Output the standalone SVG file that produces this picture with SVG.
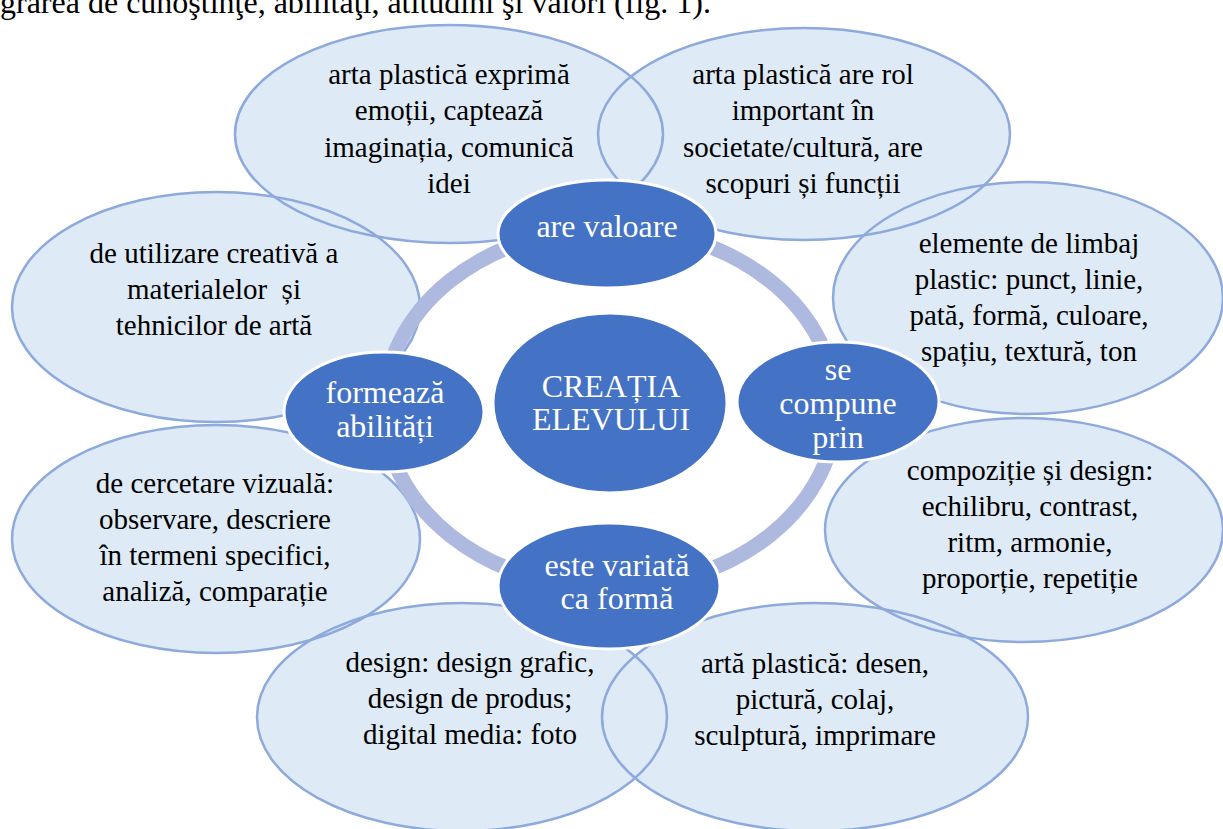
<svg xmlns="http://www.w3.org/2000/svg" xmlns:xlink="http://www.w3.org/1999/xlink" width="1223" height="829" viewBox="0 0 1223 829">
  <style>
    .outer { fill: #DEEAF6; stroke: none; }
    .outline { fill: none; stroke: #8EA9DB; stroke-width: 2.5; }
    .inner { fill: #4472C4; stroke: #FFFFFF; stroke-width: 3; }
    .ring { fill: none; stroke: #ADB9DE; stroke-width: 15; }
    .t { font-size: 29px; fill: #000000; text-anchor: middle; }
    .w { font-size: 32px; fill: #FFFFFF; text-anchor: middle; }
    .head { font-size: 32px; fill: #000000; }
  </style>
  <defs>
    <ellipse id="e1" cx="449" cy="134" rx="214" ry="109"/>
    <ellipse id="e2" cx="804" cy="134" rx="206" ry="106"/>
    <ellipse id="e3" cx="1028" cy="298" rx="195" ry="116"/>
    <ellipse id="e4" cx="1024" cy="530" rx="199" ry="112"/>
    <ellipse id="e5" cx="815" cy="717" rx="213" ry="114"/>
    <ellipse id="e6" cx="462" cy="717" rx="205" ry="114"/>
    <ellipse id="e7" cx="216" cy="539" rx="204" ry="114"/>
    <ellipse id="e8" cx="216" cy="307" rx="204" ry="115"/>
  </defs>
  <rect width="1223" height="829" fill="#FFFFFF"/>

  <g font-family="'Liberation Serif', 'Times New Roman', serif">
  <!-- running paragraph text above the figure -->
  <text class="head" x="0" y="13">grarea de cunoştinţe, abilităţi, atitudini şi valori (fig. 1).</text>

  <!-- outer detail bubbles -->
  <g id="node-expresie">
    <use xlink:href="#e1" class="outer"/>
    <text class="t"><tspan x="449" y="84">arta plastică exprimă</tspan><tspan x="449" y="120">emoții, captează</tspan><tspan x="449" y="157">imaginația, comunică</tspan><tspan x="449" y="193">idei</tspan></text>
  </g>
  <g id="node-rol">
    <use xlink:href="#e2" class="outer"/>
    <text class="t"><tspan x="803" y="84">arta plastică are rol</tspan><tspan x="803" y="120">important în</tspan><tspan x="803" y="157">societate/cultură, are</tspan><tspan x="803" y="193">scopuri și funcții</tspan></text>
  </g>
  <g id="node-limbaj">
    <use xlink:href="#e3" class="outer"/>
    <text class="t"><tspan x="1029" y="253">elemente de limbaj</tspan><tspan x="1029" y="289">plastic: punct, linie,</tspan><tspan x="1029" y="325">pată, formă, culoare,</tspan><tspan x="1029" y="361">spațiu, textură, ton</tspan></text>
  </g>
  <g id="node-compozitie">
    <use xlink:href="#e4" class="outer"/>
    <text class="t"><tspan x="1030" y="480">compoziție și design:</tspan><tspan x="1030" y="516">echilibru, contrast,</tspan><tspan x="1030" y="552">ritm, armonie,</tspan><tspan x="1030" y="588">proporție, repetiție</tspan></text>
  </g>
  <g id="node-arta">
    <use xlink:href="#e5" class="outer"/>
    <text class="t"><tspan x="815" y="673">artă plastică: desen,</tspan><tspan x="815" y="709">pictură, colaj,</tspan><tspan x="815" y="745">sculptură, imprimare</tspan></text>
  </g>
  <g id="node-design">
    <use xlink:href="#e6" class="outer"/>
    <text class="t"><tspan x="470" y="672">design: design grafic,</tspan><tspan x="470" y="708">design de produs;</tspan><tspan x="470" y="744">digital media: foto</tspan></text>
  </g>
  <g id="node-cercetare">
    <use xlink:href="#e7" class="outer"/>
    <text class="t"><tspan x="215" y="493">de cercetare vizuală:</tspan><tspan x="215" y="529">observare, descriere</tspan><tspan x="215" y="565">în termeni specifici,</tspan><tspan x="215" y="601">analiză, comparație</tspan></text>
  </g>
  <g id="node-utilizare">
    <use xlink:href="#e8" class="outer"/>
    <text class="t"><tspan x="214" y="263">de utilizare creativă a</tspan><tspan x="214" y="299">materialelor&#160; și</tspan><tspan x="214" y="335">tehnicilor de artă</tspan></text>
  </g>

  <!-- bubble outlines stay visible where bubbles overlap -->
  <g id="outlines">
    <use xlink:href="#e1" class="outline"/>
    <use xlink:href="#e2" class="outline"/>
    <use xlink:href="#e3" class="outline"/>
    <use xlink:href="#e4" class="outline"/>
    <use xlink:href="#e5" class="outline"/>
    <use xlink:href="#e6" class="outline"/>
    <use xlink:href="#e7" class="outline"/>
    <use xlink:href="#e8" class="outline"/>
  </g>

  <!-- cycle ring linking the four aspects -->
  <g id="connectors">
    <ellipse class="ring" cx="610" cy="408" rx="226" ry="180"/>
  </g>

  <!-- aspect nodes on the ring -->
  <g id="node-valoare">
    <ellipse class="inner" cx="607" cy="234" rx="109" ry="54"/>
    <text class="w" x="607" y="237">are valoare</text>
  </g>
  <g id="node-compune">
    <ellipse class="inner" cx="838" cy="402" rx="101" ry="60"/>
    <text class="w"><tspan x="838" y="380">se</tspan><tspan x="838" y="414">compune</tspan><tspan x="838" y="448">prin</tspan></text>
  </g>
  <g id="node-variata">
    <ellipse class="inner" cx="609" cy="586" rx="111" ry="63"/>
    <text class="w"><tspan x="617" y="576">este variată</tspan><tspan x="617" y="609">ca formă</tspan></text>
  </g>
  <g id="node-abilitati">
    <ellipse class="inner" cx="384" cy="412" rx="100" ry="60"/>
    <text class="w"><tspan x="385" y="403">formează</tspan><tspan x="385" y="437">abilități</tspan></text>
  </g>

  <!-- central node -->
  <g id="node-creatia">
    <ellipse class="inner" cx="610" cy="403" rx="117" ry="90"/>
    <text class="w"><tspan x="611" y="397">CREAȚIA</tspan><tspan x="611" y="430">ELEVULUI</tspan></text>
  </g>
  </g>
</svg>
